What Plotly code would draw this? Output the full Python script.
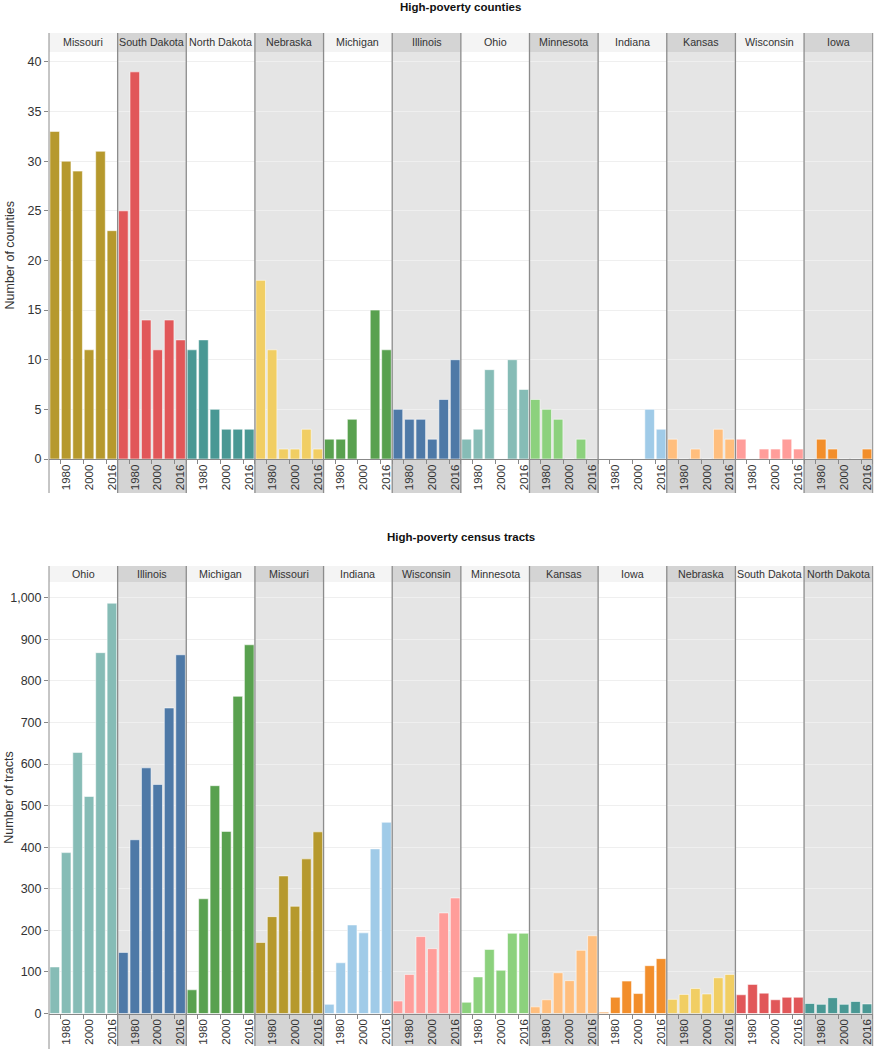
import plotly.graph_objects as go

W, H = 874, 1049

years = ["1970", "1980", "1990", "2000", "2010", "2016"]
year_ticks = ["1980", "2000", "2016"]

state_colors = {
    "Missouri": "#b6992d",
    "South Dakota": "#e15759",
    "North Dakota": "#499894",
    "Nebraska": "#f1ce63",
    "Michigan": "#59a14f",
    "Illinois": "#4e79a7",
    "Ohio": "#86bcb6",
    "Minnesota": "#8cd17d",
    "Indiana": "#a0cbe8",
    "Kansas": "#ffbe7d",
    "Wisconsin": "#ff9d9a",
    "Iowa": "#f28e2b",
}

# High-poverty counties
county_states = ["Missouri", "South Dakota", "North Dakota", "Nebraska", "Michigan", "Illinois",
                 "Ohio", "Minnesota", "Indiana", "Kansas", "Wisconsin", "Iowa"]
county_values = {
    "Missouri": [33, 30, 29, 11, 31, 23],
    "South Dakota": [25, 39, 14, 11, 14, 12],
    "North Dakota": [11, 12, 5, 3, 3, 3],
    "Nebraska": [18, 11, 1, 1, 3, 1],
    "Michigan": [2, 2, 4, 0, 15, 11],
    "Illinois": [5, 4, 4, 2, 6, 10],
    "Ohio": [2, 3, 9, 0, 10, 7],
    "Minnesota": [6, 5, 4, 0, 2, 0],
    "Indiana": [0, 0, 0, 0, 5, 3],
    "Kansas": [2, 0, 1, 0, 3, 2],
    "Wisconsin": [2, 0, 1, 1, 2, 1],
    "Iowa": [0, 2, 1, 0, 0, 1],
}

# High-poverty census tracts
tract_states = ["Ohio", "Illinois", "Michigan", "Missouri", "Indiana", "Wisconsin",
                "Minnesota", "Kansas", "Iowa", "Nebraska", "South Dakota", "North Dakota"]
tract_values = {
    "Ohio": [112, 387, 628, 522, 868, 987],
    "Illinois": [147, 418, 591, 551, 735, 863],
    "Michigan": [57, 276, 548, 438, 763, 887],
    "Missouri": [171, 233, 331, 258, 372, 437],
    "Indiana": [22, 122, 213, 194, 396, 460],
    "Wisconsin": [30, 94, 185, 156, 242, 278],
    "Minnesota": [27, 88, 154, 104, 193, 193],
    "Kansas": [16, 33, 98, 79, 152, 187],
    "Iowa": [3, 39, 78, 48, 115, 132],
    "Nebraska": [34, 46, 60, 47, 86, 94],
    "South Dakota": [45, 70, 49, 33, 39, 39],
    "North Dakota": [24, 22, 38, 22, 29, 23],
}

panels = [
    dict(title="High-poverty counties", ytitle="Number of counties", states=county_states,
         values=county_values, yrange=[0, 41], dtick=5,
         title_y=7, head_top=33, head_bot=52, plot_bot=459, band_bot=493, axis_bot=493),
    dict(title="High-poverty census tracts", ytitle="Number of tracts", states=tract_states,
         values=tract_values, yrange=[0, 1038], dtick=100,
         title_y=537, head_top=566, head_bot=582, plot_bot=1013.5, band_bot=1046, axis_bot=1049),
]

LEFT, RIGHT = 49, 872.7
NF = 12
fw = (RIGHT - LEFT) / NF
FONT = "Liberation Sans, Arial, sans-serif"
TXT = "#333333"


def fx(px):
    return px / W


def fy(py):
    return 1 - py / H


fig = go.Figure()
layout = dict(
    width=W, height=H, autosize=False, margin=dict(l=0, r=0, t=0, b=0, pad=0, autoexpand=False),
    paper_bgcolor="white", plot_bgcolor="white", showlegend=False,
    font=dict(family=FONT, size=12, color=TXT), bargap=0.16,
)
shapes = []
annotations = []

for p, pan in enumerate(panels):
    yname0 = "y" if p == 0 else f"y{p * NF + 1}"
    for i, st in enumerate(pan["states"]):
        k = p * NF + i + 1
        xn = "x" if k == 1 else f"x{k}"
        yn = "y" if k == 1 else f"y{k}"
        x0 = LEFT + i * fw
        x1 = x0 + fw
        gray = (i % 2 == 1)
        fig.add_trace(go.Bar(
            x=years, y=pan["values"][st], xaxis=xn, yaxis=yn,
            marker=dict(color=state_colors[st], line=dict(color="rgba(255,255,255,0.55)", width=1)),
            hovertemplate=st + " %{x}: %{y}<extra></extra>",
        ))
        layout["xaxis" if k == 1 else f"xaxis{k}"] = dict(
            domain=[fx(x0), fx(x1)], anchor=yn, type="category", automargin=False,
            categoryorder="array", categoryarray=years, range=[-0.5, 5.5],
            tickmode="array", tickvals=year_ticks, ticktext=year_ticks,
            tickangle=-90, tickfont=dict(size=11.5, color=TXT),
            ticks="outside", ticklen=4, tickcolor="#888888", tickson="boundaries",
            showline=True, linecolor="#888888", linewidth=1,
            showgrid=False, zeroline=False, fixedrange=True,
        )
        ydict = dict(
            domain=[fy(pan["plot_bot"]), fy(pan["head_bot"])], anchor=xn, automargin=False,
            range=pan["yrange"], dtick=pan["dtick"], tick0=0,
            showgrid=True, gridcolor="#efefef", gridwidth=1, zeroline=False,
            showticklabels=(i == 0), fixedrange=True,
        )
        if i == 0:
            ydict.update(ticks="outside", ticklen=4, tickcolor="#888888",
                         tickfont=dict(size=12.5, color=TXT), tickformat=",d",
                         showline=False)
        else:
            ydict.update(matches=yname0, ticks="")
        layout["yaxis" if k == 1 else f"yaxis{k}"] = ydict

        # facet backgrounds
        if gray:
            shapes.append(dict(type="rect", xref="paper", yref="paper", layer="below",
                               x0=fx(x0), x1=fx(x1), y0=fy(pan["plot_bot"]), y1=fy(pan["head_bot"]),
                               fillcolor="#e5e5e5", line=dict(width=0)))
            shapes.append(dict(type="rect", xref="paper", yref="paper", layer="below",
                               x0=fx(x0), x1=fx(x1), y0=fy(pan["band_bot"]), y1=fy(pan["plot_bot"]),
                               fillcolor="#d4d4d4", line=dict(width=0)))
        shapes.append(dict(type="rect", xref="paper", yref="paper", layer="below",
                           x0=fx(x0), x1=fx(x1), y0=fy(pan["head_bot"]), y1=fy(pan["head_top"]),
                           fillcolor="#d4d4d4" if gray else "#f4f4f4", line=dict(width=0)))
        annotations.append(dict(text=st, xref="paper", yref="paper",
                                x=fx((x0 + x1) / 2), y=fy((pan["head_top"] + pan["head_bot"]) / 2),
                                xanchor="center", yanchor="middle", showarrow=False,
                                font=dict(size=10.7, color=TXT)))
        # separators
        if i > 0:
            shapes.append(dict(type="line", xref="paper", yref="paper", layer="above",
                               x0=fx(x0), x1=fx(x0), y0=fy(pan["band_bot"]), y1=fy(pan["head_top"]),
                               line=dict(color="#8c8c8c", width=1.3)))
    # right edge line
    shapes.append(dict(type="line", xref="paper", yref="paper", layer="above",
                       x0=fx(RIGHT), x1=fx(RIGHT), y0=fy(pan["band_bot"]), y1=fy(pan["head_top"]),
                       line=dict(color="#8c8c8c", width=1)))
    # left axis line
    shapes.append(dict(type="line", xref="paper", yref="paper", layer="above",
                       x0=fx(LEFT), x1=fx(LEFT), y0=fy(pan["axis_bot"]), y1=fy(pan["head_top"]),
                       line=dict(color="#8c8c8c", width=1)))
    # panel title
    annotations.append(dict(text="<b>" + pan["title"] + "</b>", xref="paper", yref="paper",
                            x=fx((LEFT + RIGHT) / 2), y=fy(pan["title_y"]),
                            xanchor="center", yanchor="middle", showarrow=False,
                            font=dict(size=11.5, color="#111111")))
    # y axis title
    annotations.append(dict(text=pan["ytitle"], xref="paper", yref="paper",
                            x=fx(9), y=fy((pan["head_bot"] + pan["plot_bot"]) / 2),
                            xanchor="center", yanchor="middle", showarrow=False, textangle=-90,
                            font=dict(size=12.5, color=TXT)))

layout["shapes"] = shapes
layout["annotations"] = annotations
fig.update_layout(**layout)
fig.write_html(
    "out.html",
    config={"displayModeBar": False, "responsive": False},
    default_width=f"{W}px", default_height=f"{H}px",
    post_script="document.body.style.margin='0';document.body.style.overflow='hidden';",
)
